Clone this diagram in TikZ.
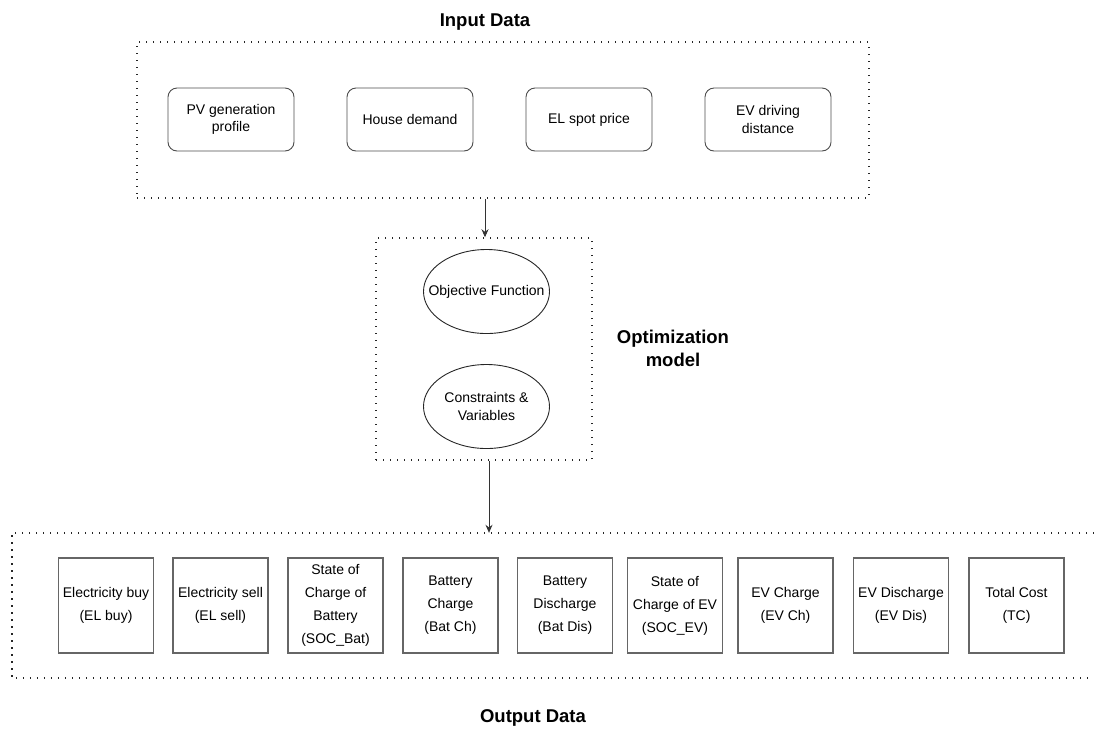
\documentclass[tikz,border=0pt]{standalone}
\usepackage{fontspec}
\setmainfont{Liberation Sans}
\usetikzlibrary{arrows.meta,shapes.geometric}
\begin{document}
\begin{tikzpicture}[x=1pt,y=-1pt,
  every node/.style={font=\fontsize{14}{17.5}\selectfont},
  every label/.style={font=\fontsize{14}{18}\selectfont,align=center,inner sep=0pt},
  dotbox/.style={draw=black!85,line width=1.5pt,dash pattern=on 1.4pt off 5.6pt},
  inbox/.style={draw=black!70,line width=0.9pt,rounded corners=9pt,minimum width=126pt,minimum height=63pt,align=center,inner sep=1pt},
  outbx/.style={draw=black!60,line width=1.4pt,minimum width=95pt,minimum height=95pt,align=center,inner sep=0pt,font=\fontsize{14}{23}\selectfont},
  ell/.style={draw=black!85,line width=0.9pt,ellipse,minimum width=126pt,minimum height=84pt,inner sep=0pt},
  title/.style={font=\fontsize{18.5}{23}\selectfont\bfseries,align=center},
  arr/.style={draw=black!80,line width=0.9pt,-{Stealth[length=8pt,width=7pt]}}]
\useasboundingbox (0,0) rectangle (1094,729);
% containers
\node[dotbox,minimum width=732pt,minimum height=156pt,inner sep=0pt] (inbox) at (503,120) {};
\node[dotbox,minimum width=216pt,minimum height=222pt,inner sep=0pt] (optbox) at (484,349) {};
\node[minimum width=1082pt,minimum height=145pt,inner sep=0pt] (outbox) at (553,605.5) {};
\draw[dotbox] (outbox.north east) -- (outbox.north west) -- (outbox.south west) -- (outbox.south east);
% titles
\node[title] (tin) at (485,22) {Input Data};
\node[title] (topt) at (673,348) {Optimization\\model};
\node[title] (tout) at (533,718) {Output Data};
% input boxes
\node[inbox] (pv) at (231,119.5) {PV generation\\profile};
\node[inbox] (hd) at (410,119.5) {House demand};
\node[inbox] (sp) at (589,119.5) {EL spot price};
\node[inbox] (ev) at (768,119.5) {EV driving\\distance};
% ellipses
\node[ell,label={center:Objective Function}] (obj) at (486.5,291.5) {};
\node[ell,label={center:Constraints \&\\Variables}] (con) at (486.5,406.5) {};
% output boxes
\node[outbx] (o1) at (106,605.5) {Electricity buy\\(EL buy)};
\node[outbx] (o2) at (220.5,605.5) {Electricity sell\\(EL sell)};
\node[outbx] (o3) at (335.5,605.5) {State of\\Charge of\\Battery\\(SOC\_Bat)};
\node[outbx] (o4) at (450.5,605.5) {Battery\\Charge\\(Bat Ch)};
\node[outbx] (o5) at (565,605.5) {Battery\\Discharge\\(Bat Dis)};
\node[outbx] (o6) at (675,605.5) {State of\\Charge of EV\\(SOC\_EV)};
\node[outbx] (o7) at (785.5,605.5) {EV Charge\\(EV Ch)};
\node[outbx] (o8) at (901,605.5) {EV Discharge\\(EV Dis)};
\node[outbx] (o9) at (1016.5,605.5) {Total Cost\\(TC)};
% arrows
\draw[arr] ([xshift=1pt]optbox.north |- inbox.south) -- ([xshift=1pt]optbox.north);
\draw[arr] ([xshift=5pt]optbox.south) -- ([xshift=5pt]optbox.south |- outbox.north);
\end{tikzpicture}
\end{document}
